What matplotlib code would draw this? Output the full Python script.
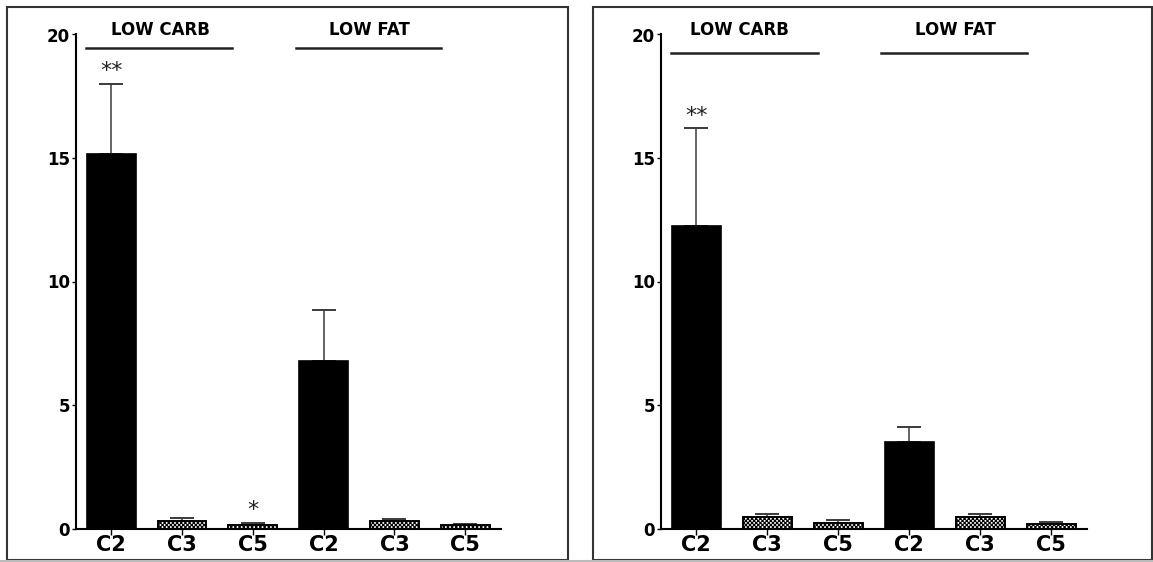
import matplotlib
matplotlib.use('Agg')
import matplotlib.pyplot as plt
from matplotlib.patches import Rectangle
from matplotlib.lines import Line2D

# ---- data ----
categories = ['C2', 'C3', 'C5', 'C2', 'C3', 'C5']
left_means = [15.15, 0.30, 0.16, 6.78, 0.31, 0.13]
left_err = [2.85, 0.14, 0.07, 2.07, 0.08, 0.06]
right_means = [12.25, 0.46, 0.23, 3.49, 0.46, 0.20]
right_err = [3.95, 0.12, 0.10, 0.60, 0.12, 0.08]
left_stars = ['**', '', '*', '', '', '']
right_stars = ['**', '', '', '', '', '']
groups = ['LOW CARB', 'LOW FAT']
yticks = [0, 5, 10, 15, 20]
solid = [True, False, False, True, False, False]

W, H = 1153, 562
fig = plt.figure(figsize=(W / 100, H / 100), dpi=100)
plt.rcParams['hatch.linewidth'] = 0.8

def fx(px):
    return px / W

def fy(py):
    return 1 - py / H

ax_bottom = fy(528.5)
ax_top = fy(34.5)
axL = fig.add_axes([fx(75.7), ax_bottom, fx(500.7) - fx(75.7), ax_top - ax_bottom])
axR = fig.add_axes([fx(660.7), ax_bottom, fx(1086.6) - fx(660.7), ax_top - ax_bottom])

def draw(ax, means, errs, stars, label_x, line_y):
    x = list(range(len(categories)))
    lower = [0] * len(errs)
    ax.errorbar(x, means, yerr=[lower, errs], fmt='none', ecolor='#3a3a3a',
                elinewidth=1.1, capsize=8.6, capthick=1.4, zorder=2)
    for xi, m, s in zip(x, means, solid):
        if s:
            ax.bar(xi, m, width=0.69, color='black', edgecolor='black',
                   linewidth=1.2, zorder=3)
        else:
            ax.bar(xi, m, width=0.69, color='white', edgecolor='black',
                   hatch='xxxxxxxx', linewidth=1.4, zorder=3)
    for xi, m, e, st in zip(x, means, errs, stars):
        if st:
            ax.annotate(st, (xi, m + e), xytext=(0, 2), textcoords='offset points',
                        ha='center', va='bottom', fontsize=16, color='#222')
    spans = [(-0.35, 1.71), (2.61, 4.66)]
    for (a, b), g, lx in zip(spans, groups, label_x):
        ax.add_line(Line2D([a, b], [line_y, line_y], color='#222', lw=1.8,
                           clip_on=False))
        ax.text(lx, 20.18, g, ha='center', va='center', fontsize=12,
                fontweight='bold', clip_on=False)
    ax.set_xlim(-0.5, 5.5)
    ax.set_ylim(0, 20)
    ax.set_yticks(yticks)
    ax.set_yticklabels([str(t) for t in yticks], fontsize=12, fontweight='bold')
    ax.set_xticks(x)
    ax.set_xticklabels(categories, fontsize=15, fontweight='bold')
    for sp in ['top', 'right']:
        ax.spines[sp].set_visible(False)
    for sp in ['left', 'bottom']:
        ax.spines[sp].set_linewidth(1.5)
    ax.tick_params(axis='y', length=3, width=1, pad=1)
    ax.tick_params(axis='x', length=4, width=1, pad=1)
    ax.patch.set_alpha(0)

draw(axL, left_means, left_err, left_stars, [0.70, 3.65], 19.44)
draw(axR, right_means, right_err, right_stars, [0.61, 3.65], 19.26)

# panel frames
for x0, x1 in [(7.3, 568), (592.7, 1152)]:
    fig.add_artist(Rectangle((fx(x0), fy(560)), fx(x1) - fx(x0), fy(7) - fy(560),
                             transform=fig.transFigure, fill=False, lw=1.5,
                             edgecolor='#333'))
fig.add_artist(Line2D([0, 1], [fy(560.5), fy(560.5)], transform=fig.transFigure,
                      color='#bbbbbb', lw=1.5))

fig.savefig('out.png', dpi=100)
